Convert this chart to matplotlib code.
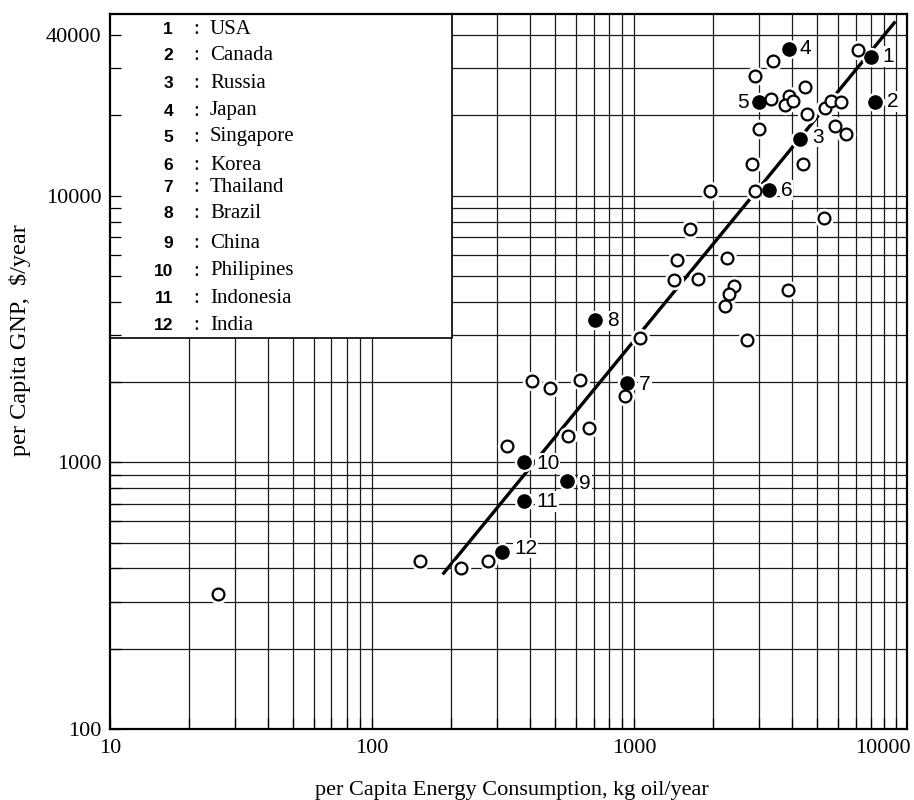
import numpy as np
import matplotlib
matplotlib.use('Agg')
import matplotlib.pyplot as plt
import matplotlib.patches as patches
from matplotlib.ticker import NullFormatter
from matplotlib.transforms import ScaledTranslation

# Paises destacados (pontos cheios)
paises = ['USA', 'Canada', 'Russia', 'Japan', 'Singapore', 'Korea',
          'Thailand', 'Brazil', 'China', 'Philipines', 'Indonesia', 'India']
paises_x = [8000, 8280, 4290, 3890, 2990, 3270, 940, 710, 556, 381, 381, 314]
paises_y = [33000, 22400, 16300, 35600, 22400, 10500, 1990, 3420, 849, 1000, 715, 461]

# Outros paises (pontos abertos)
outros_x = [7150, 3390, 2890, 4470, 3320, 3890, 3750, 4030, 4570, 5370, 5620, 6180,
            5830, 6450, 3000, 2820, 4420, 1950, 2890, 5320, 1630, 1455, 2260, 1420,
            1760, 2400, 2310, 2230, 3870, 1050, 2690, 406, 479, 619, 925, 557, 670,
            328, 152, 219, 277, 25.8]
outros_y = [35100, 32100, 28200, 25600, 23100, 23600, 21800, 22600, 20300, 21300, 22700, 22500,
            18200, 17000, 17800, 13200, 13200, 10400, 10400, 8260, 7500, 5760, 5850, 4820,
            4880, 4600, 4260, 3850, 4430, 2920, 2880, 2020, 1900, 2040, 1780, 1260, 1350,
            1150, 428, 401, 425, 321]

# Reta de tendencia (extremos)
reta_x = [186, 9930]
reta_y = [380, 45000]

xticks = [10, 100, 1000, 10000]
yticks = [100, 1000, 10000, 40000]

# deslocamento dos rotulos (pixels)
desloc = [(12, -1), (12, -1), (12, -2), (11, 0), (-10, 0), (12, 0),
          (12, 2), (12, 1), (12, 2), (12, 1), (12, 0), (12, -4)]

fig = plt.figure(figsize=(9.14, 8.0), dpi=100)
ax = fig.add_axes([110 / 914, 1 - 729 / 800, (907 - 110) / 914, (729 - 14) / 800])
ax.set_xscale('log')
ax.set_yscale('log')
ax.set_xlim(10, 11000)
ax.set_ylim(100, 48000)

# grade
for e in range(1, 5):
    for m in range(1, 10):
        v = m * 10 ** e
        if 10 < v < 11000:
            ax.axvline(v, color='#1a1a1a', lw=0.9, zorder=0.8)
for e in range(2, 5):
    for m in range(1, 10):
        v = m * 10 ** e
        if 100 < v < 48000:
            ax.axhline(v, color='#1a1a1a', lw=0.9, zorder=0.8)

# caixa da legenda
ax.add_patch(patches.Rectangle((0, 0.547), 0.429, 0.453, transform=ax.transAxes,
                               facecolor='white', edgecolor='black', lw=1.2, zorder=1.0))

linhas_y = [29, 56, 83, 111, 137, 166, 187, 214, 243, 271, 298, 325]
for i, (nome, py) in enumerate(zip(paises, linhas_y)):
    fy = 1 - py / 800
    fig.text(173 / 914, fy, str(i + 1), ha='right', va='center', fontsize=12.5,
             family='Liberation Sans', fontweight='bold', zorder=6)
    fig.text(196 / 914, fy, ':', ha='center', va='center', fontsize=15,
             family='Liberation Serif', zorder=6)
    fig.text(210 / 914, fy, nome, ha='left', va='center', fontsize=15,
             family='Liberation Serif', zorder=6)

# reta
ax.plot(reta_x, reta_y, color='black', lw=2.4, solid_capstyle='butt', zorder=3)

# halo branco atras dos pontos
todos_x = paises_x + outros_x
todos_y = paises_y + outros_y
ax.plot(todos_x, todos_y, 'o', ms=13, color='white', mec='white', zorder=3.5)

ax.plot(outros_x, outros_y, 'o', ms=8.5, mfc='white', mec='black', mew=1.6, zorder=4)
ax.plot(paises_x, paises_y, 'o', ms=9.5, color='black', zorder=4)

for i, (x, y) in enumerate(zip(paises_x, paises_y)):
    dx, dy = desloc[i]
    ax.annotate(str(i + 1), (x, y), xytext=(dx, -dy), textcoords='offset pixels',
                ha='left' if dx > 0 else 'right', va='center', fontsize=15,
                family='Liberation Sans', zorder=5,
                bbox=dict(facecolor='white', edgecolor='none', pad=0.6))

ax.set_xticks(xticks, labels=[str(v) for v in xticks])
ax.set_yticks(yticks, labels=[str(v) for v in yticks])
ax.xaxis.set_minor_formatter(NullFormatter())
ax.yaxis.set_minor_formatter(NullFormatter())
ax.tick_params(which='both', direction='in', length=8, width=0.9, color='black')
ax.tick_params(axis='x', pad=7)
ax.tick_params(axis='y', pad=6)
for lab in ax.get_xticklabels() + ax.get_yticklabels():
    lab.set_family('Liberation Serif')
    lab.set_fontsize(16)

# o ultimo rotulo do eixo x fica um pouco a esquerda
ult = ax.get_xticklabels()[-1]
ult.set_transform(ult.get_transform() + ScaledTranslation(-0.13, 0, fig.dpi_scale_trans))

for s in ax.spines.values():
    s.set_linewidth(1.6)
    s.set_zorder(6)

fig.text(512 / 914, 1 - 795 / 800, 'per Capita Energy Consumption, kg oil/year',
         ha='center', va='baseline', family='Liberation Serif', fontsize=16)
fig.text(20 / 914, 1 - 340 / 800, 'per Capita GNP,  $/year', rotation=90,
         ha='center', va='center', family='Liberation Serif', fontsize=17.5)

fig.savefig('out.png', dpi=100)
